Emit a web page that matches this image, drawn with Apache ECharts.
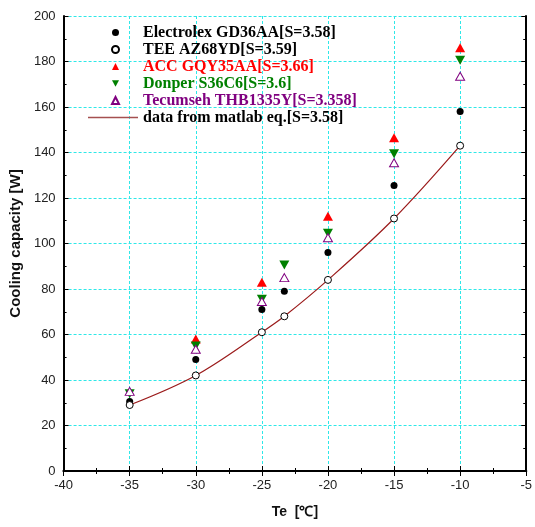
<!DOCTYPE html>
<html>
<head>
<meta charset="utf-8">
<script src="https://cdn.jsdelivr.net/npm/echarts@6/dist/echarts.min.js"></script>
<style>html,body{margin:0;padding:0;background:#fff}#c{width:535px;height:527px}</style>
</head>
<body>
<div id="c"></div>
<script>
// Evaporating temperature (°C)
var te = [-35, -30, -25, -23.3, -20, -15, -10];
// Cooling capacity (W)
var electrolux = [30.5, 49, 71, 79, 96, 125.5, 158];
var tee = [29, 42, 61, 68, 84, 111, 143];
var acc = [null, 58, 83, null, 112, 146.5, 186];
var donper = [34, 55, 75.5, 90.5, 104.5, 139.5, 180.5];
var tecumseh = [35, 53.5, 74.5, 85, 102.5, 135.5, 173.5];
var matlabEq = [29, 42, 61, 68, 84, 111, 143];

var names = [
  'Electrolex GD36AA[S=3.58]',
  'TEE AZ68YD[S=3.59]',
  'ACC GQY35AA[S=3.66]',
  'Donper S36C6[S=3.6]',
  'Tecumseh THB1335Y[S=3.358]',
  'data from matlab eq.[S=3.58]'
];
var textColors = ['#000', '#000', '#ff0000', '#008000', '#800080', '#000'];
var downTri = 'path://M0,0L10,0L5,9Z';
var icons = ['circle', 'circle', 'triangle', downTri, 'triangle'];

function pairs(ys) {
  var out = [];
  for (var i = 0; i < te.length; i++) if (ys[i] != null) out.push([te[i], ys[i]]);
  return out;
}

var chart = echarts.init(document.getElementById('c'), null, {renderer: 'canvas'});
var gridColor = '#2ee8e8';
var common = {type: 'value', axisLine: {show: true, lineStyle: {color: '#000', width: 2}},
  axisTick: {show: true, inside: true, length: 5, lineStyle: {color: '#000', width: 1}},
  minorTick: {show: true, splitNumber: 2, length: 3, lineStyle: {color: '#000'}},
  minorSplitLine: {show: false}};
var legendText = {fontFamily: 'Liberation Serif', fontWeight: 'bold', fontSize: 16, lineHeight: 17};

chart.setOption({
  animation: false,
  backgroundColor: '#fff',
  grid: {left: 63, top: 16, right: 5, bottom: 56, containLabel: false},
  legend: [
    {
      orient: 'vertical', left: 111, top: 24, padding: 0, itemWidth: 7, itemHeight: 7, itemGap: 0,
      selectedMode: false, textStyle: legendText,
      data: names.slice(0, 5).map(function (n, i) {
        return {name: n, icon: icons[i], textStyle: {color: textColors[i], padding: [0, 0, 0, 19]}};
      })
    },
    {
      orient: 'vertical', left: 88, top: 24 + 5 * 17, padding: 0, itemWidth: 50, itemHeight: 1.5, itemGap: 0,
      selectedMode: false, textStyle: legendText,
      data: [{name: names[5], icon: 'rect', textStyle: {color: textColors[5]}}]
    }
  ],
  xAxis: [
    Object.assign({}, common, {min: -40, max: -5, interval: 5, position: 'bottom',
      name: 'Te  [℃]', nameLocation: 'middle', nameGap: 34,
      nameTextStyle: {fontFamily: 'Liberation Sans', fontWeight: 'bold', fontSize: 14, color: '#111'},
      axisLabel: {fontFamily: 'Liberation Sans', fontSize: 13, color: '#222', margin: 8},
      splitLine: {show: true, lineStyle: {color: gridColor, type: [3, 2], width: 1}}}),
    Object.assign({}, common, {min: -40, max: -5, interval: 5, position: 'top',
      axisLabel: {show: false}, splitLine: {show: false}})
  ],
  yAxis: [
    Object.assign({}, common, {min: 0, max: 200, interval: 20, position: 'left',
      name: 'Cooling capacity [W]', nameLocation: 'middle', nameGap: 38,
      nameTextStyle: {fontFamily: 'Liberation Sans', fontWeight: 'bold', fontSize: 15, color: '#111'},
      axisLabel: {fontFamily: 'Liberation Sans', fontSize: 13, color: '#222', margin: 8},
      splitLine: {show: true, lineStyle: {color: gridColor, type: [3, 2], width: 1}}}),
    Object.assign({}, common, {min: 0, max: 200, interval: 20, position: 'right',
      axisLabel: {show: false}, splitLine: {show: false}})
  ],
  series: [
    {name: names[5], type: 'line', smooth: 0.35, symbol: 'none', z: 1, data: pairs(matlabEq),
      lineStyle: {color: '#9b1b1b', width: 1.2}, itemStyle: {color: '#a55050'}},
    {name: names[0], type: 'scatter', symbol: 'circle', symbolSize: 7, z: 3, data: pairs(electrolux),
      itemStyle: {color: '#000', opacity: 1}},
    {name: names[1], type: 'scatter', symbol: 'circle', symbolSize: 7, z: 4, data: pairs(tee),
      itemStyle: {color: '#fff', borderColor: '#000', borderWidth: 1, opacity: 1}},
    {name: names[2], type: 'scatter', symbol: 'triangle', symbolSize: [10, 9], z: 3, data: pairs(acc),
      itemStyle: {color: '#ff0000', opacity: 1}},
    {name: names[3], type: 'scatter', symbol: downTri, symbolSize: [10, 9], z: 3, data: pairs(donper),
      itemStyle: {color: '#008000', opacity: 1}},
    {name: names[4], type: 'scatter', symbol: 'triangle', symbolSize: [9, 8], z: 3, data: pairs(tecumseh),
      itemStyle: {color: '#fff', borderColor: '#800080', borderWidth: 1, opacity: 1}}
  ]
});
</script>
</body>
</html>
